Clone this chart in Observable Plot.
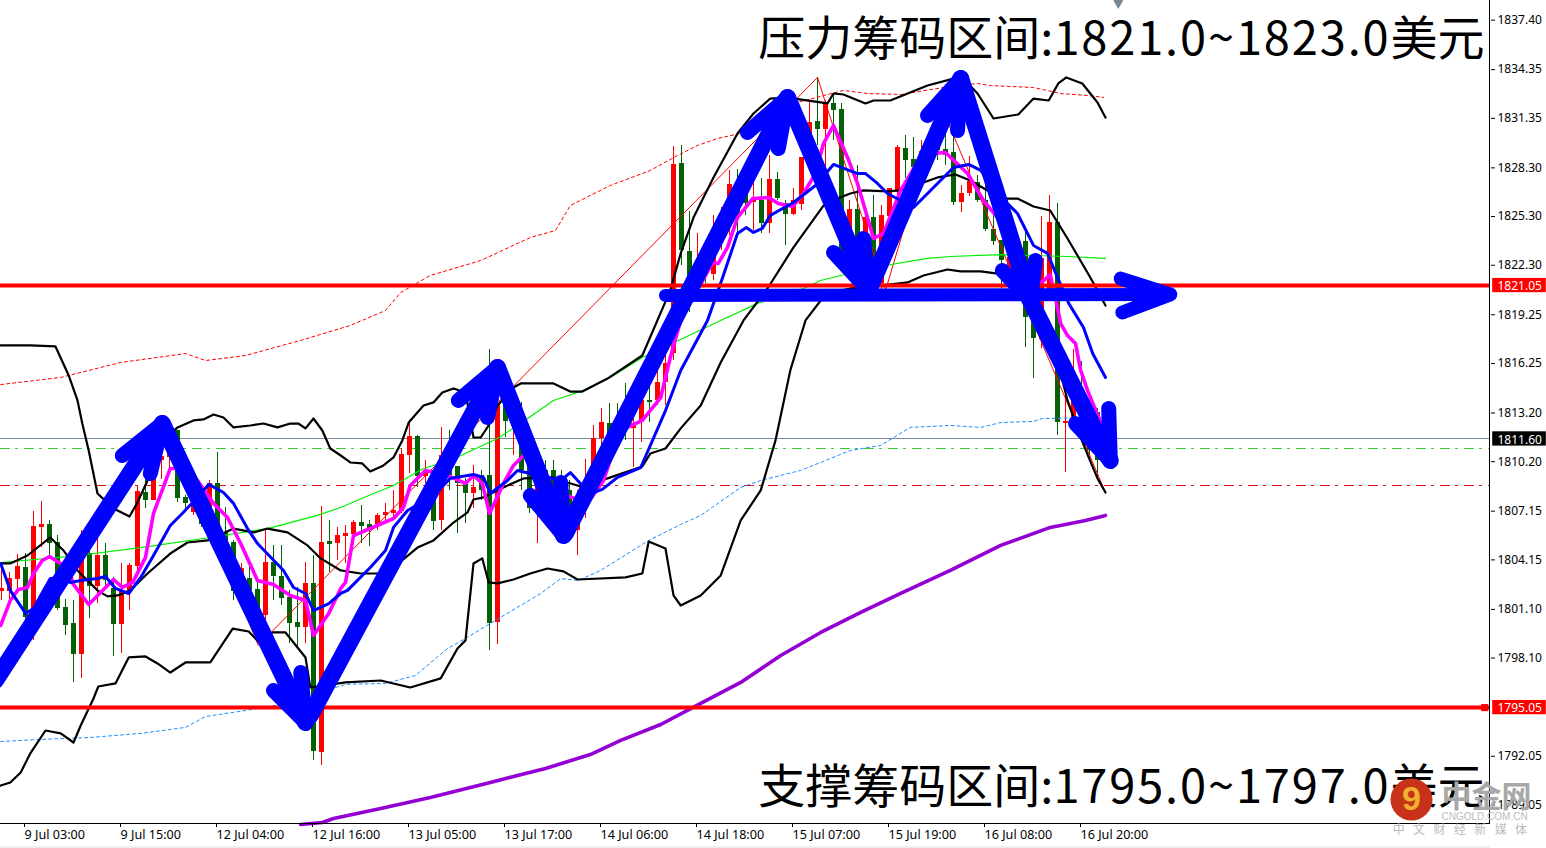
<!DOCTYPE html>
<html><head><meta charset="utf-8">
<style>html,body{margin:0;padding:0;background:#fff}svg{display:block}.spaced text{letter-spacing:8.4px}</style>
<script src="https://cdn.jsdelivr.net/npm/d3@7"></script>
<script src="https://cdn.jsdelivr.net/npm/@observablehq/plot@0.6"></script>
</head><body><div id="chart"></div>
<script>
// candles, one entry per bar, bar index = array position
const opens=[1802.20,1802.20,1802.94,1803.68,1800.85,1806.15,1806.33,1805.22,1801.22,1800.23,1798.32,1804.54,1802.51,1804.42,1802.39,1800.17,1802.27,1803.74,1808.30,1807.81,1810.27,1810.46,1812.12,1808.00,1807.07,1807.19,1807.19,1808.86,1805.84,1805.22,1802.76,1803.00,1802.33,1800.73,1804.01,1803.13,1801.83,1800.29,1799.99,1802.70,1792.29,1805.28,1805.16,1805.59,1805.72,1806.45,1806.33,1806.33,1806.89,1807.01,1807.13,1810.58,1811.75,1809.29,1808.00,1806.58,1810.58,1809.90,1808.92,1808.24,1809.35,1809.35,1800.29,1813.79,1812.74,1813.29,1810.09,1807.50,1809.66,1809.66,1809.04,1808.43,1805.96,1807.32,1808.43,1811.63,1812.55,1812.74,1812.55,1812.25,1812.74,1813.97,1813.97,1815.08,1816.86,1828.57,1823.15,1821.05,1822.59,1821.73,1823.70,1825.24,1827.21,1827.34,1826.17,1826.29,1824.87,1827.58,1826.10,1825.43,1826.04,1828.88,1831.16,1830.66,1832.27,1831.90,1823.52,1825.74,1823.52,1825.24,1821.18,1825.30,1826.91,1829.49,1828.82,1828.57,1828.57,1830.42,1829.43,1829.25,1826.17,1826.72,1827.40,1826.29,1824.50,1823.83,1821.98,1821.98,1823.76,1821.05,1817.73,1820.75,1824.93,1812.55,1812.74,1813.97,1813.05,1813.23,1810.15];
const highs=[1803.68,1803.37,1804.48,1804.54,1807.13,1807.75,1806.58,1805.65,1801.71,1801.65,1805.96,1804.91,1805.53,1805.16,1803.07,1803.93,1803.93,1808.73,1810.15,1810.46,1811.51,1811.51,1812.12,1808.12,1808.43,1808.43,1809.04,1810.77,1807.38,1805.35,1803.93,1803.81,1803.00,1805.96,1805.04,1805.04,1802.27,1802.45,1804.01,1804.42,1807.44,1806.58,1806.15,1806.27,1806.58,1807.50,1806.58,1807.01,1807.62,1808.43,1811.01,1812.55,1811.81,1810.27,1809.47,1812.31,1812.12,1809.90,1809.17,1809.97,1809.66,1817.11,1814.28,1814.28,1814.83,1813.85,1810.27,1810.27,1810.27,1810.27,1809.66,1809.04,1808.43,1810.34,1812.43,1813.48,1813.79,1813.79,1815.02,1813.54,1814.59,1814.89,1816.25,1817.36,1829.62,1829.68,1825.61,1824.26,1823.83,1825.37,1825.86,1828.14,1828.20,1827.65,1827.65,1827.65,1829.06,1828.01,1826.29,1827.03,1828.94,1832.45,1833.87,1832.45,1832.88,1832.27,1826.29,1828.45,1825.37,1826.60,1825.98,1827.03,1829.68,1830.29,1830.17,1829.99,1830.60,1830.60,1830.60,1830.60,1827.21,1829.00,1827.83,1827.21,1825.98,1823.83,1824.44,1823.83,1824.44,1822.72,1825.30,1826.60,1826.10,1814.71,1817.11,1816.37,1813.35,1813.48,1811.51];
const lows=[1801.65,1801.65,1802.27,1800.42,1799.19,1804.91,1804.30,1801.03,1799.49,1796.60,1796.85,1800.54,1801.47,1802.45,1798.20,1798.39,1801.03,1803.50,1807.32,1807.81,1809.10,1809.66,1807.69,1807.19,1806.89,1806.15,1807.07,1804.24,1805.04,1801.65,1802.27,1801.65,1799.19,1799.19,1801.65,1801.34,1799.00,1798.76,1799.00,1791.79,1791.49,1803.37,1804.11,1803.93,1805.35,1805.16,1804.98,1805.96,1806.45,1806.76,1807.01,1809.47,1808.61,1808.86,1805.96,1805.96,1808.43,1805.78,1806.39,1807.32,1807.81,1798.57,1798.94,1811.69,1810.58,1808.43,1807.01,1805.16,1807.19,1805.96,1805.35,1805.53,1804.42,1806.70,1808.12,1810.89,1810.27,1811.20,1811.51,1809.84,1811.38,1812.61,1813.66,1813.66,1816.43,1822.29,1819.39,1820.75,1821.18,1821.36,1823.21,1824.13,1824.13,1825.37,1824.44,1824.26,1824.26,1826.29,1823.52,1825.37,1825.67,1828.45,1829.68,1828.14,1829.99,1822.59,1822.59,1821.98,1822.59,1821.98,1820.75,1824.44,1826.29,1827.65,1826.60,1828.14,1828.14,1828.75,1828.45,1825.98,1825.55,1826.54,1826.17,1824.38,1823.52,1820.87,1821.36,1821.36,1817.23,1815.33,1817.17,1820.13,1811.81,1809.53,1812.43,1812.43,1810.27,1809.23,1810.09];
const closes=[1802.39,1803.00,1803.74,1800.60,1806.21,1806.33,1805.16,1801.16,1800.11,1798.32,1804.30,1802.51,1804.42,1802.88,1800.17,1802.27,1803.81,1808.36,1807.81,1809.78,1810.52,1810.89,1807.93,1807.63,1807.81,1806.33,1808.86,1805.84,1805.16,1802.20,1803.62,1802.27,1800.85,1804.01,1803.13,1801.77,1800.23,1799.99,1802.70,1792.35,1805.22,1805.10,1805.65,1805.78,1806.45,1806.21,1806.08,1806.89,1807.07,1807.19,1810.64,1811.75,1809.29,1809.66,1806.52,1810.58,1809.35,1808.86,1808.24,1808.61,1808.43,1800.23,1813.79,1812.68,1813.66,1809.66,1807.32,1809.66,1808.12,1806.58,1806.27,1805.96,1807.69,1808.43,1811.63,1812.61,1810.89,1811.81,1812.25,1812.55,1813.97,1813.85,1815.08,1816.25,1828.51,1823.21,1821.36,1822.10,1821.79,1823.83,1824.26,1827.28,1825.37,1826.10,1826.29,1824.87,1827.58,1826.41,1825.43,1826.29,1828.94,1831.09,1830.66,1832.27,1831.83,1822.90,1825.74,1823.64,1825.24,1822.16,1825.37,1827.03,1829.56,1828.75,1828.32,1829.31,1830.11,1829.37,1829.06,1826.17,1826.72,1827.46,1826.29,1824.50,1823.76,1822.59,1822.78,1823.76,1819.08,1817.79,1822.72,1824.93,1812.61,1812.68,1814.59,1812.74,1810.89,1810.27,1811.20];

// indicator lines as [bar, price]
const outerUpper=[[-0.12,1817.36],[3.6,1817.36],[6.75,1817.30],[8.4,1815.51],[9.5,1813.97],[10.1,1812.55],[10.9,1810.89],[12,1808.24],[14,1807.32],[16,1806.82],[17,1807.69],[18.25,1809.04],[19.5,1810.46],[20.25,1811.51],[22,1812.31],[24,1812.74],[25.25,1812.80],[26.5,1813.11],[27.75,1812.92],[29,1812.31],[31.1,1812.43],[32.75,1812.55],[34.5,1812.31],[36.1,1812.55],[37.1,1812.55],[38,1812.25],[39,1812.86],[40.1,1812.12],[41.1,1811.01],[42.4,1810.58],[43.6,1810.15],[45.1,1810.09],[46.1,1809.60],[47.75,1809.97],[49,1810.46],[50.1,1811.51],[50.9,1812.61],[52.75,1813.66],[54,1813.85],[55.1,1814.46],[56.5,1814.71],[58,1814.46],[59,1811.69],[59.9,1811.69],[60.9,1812.43],[62,1813.66],[64,1814.77],[64.9,1815.02],[69,1815.02],[71.1,1814.52],[72.6,1814.52],[75.75,1815.32],[80.1,1816.74],[83.6,1820.75],[84.9,1823.03],[86.5,1825.24],[89,1827.71],[92,1830.42],[94,1831.65],[96.1,1832.57],[98.25,1832.63],[103.25,1832.27],[104,1832.88],[105.25,1832.82],[108,1832.27],[109,1832.45],[111.1,1832.45],[115.75,1833.37],[119,1833.80],[120,1833.93],[122,1832.88],[124,1831.34],[127.1,1831.59],[129,1832.57],[130.9,1832.45],[132.1,1833.50],[133.1,1833.87],[135.1,1833.50],[137,1832.33],[138,1831.40]];
const midBand=[[-0.1,1803.93],[1.1,1803.93],[3.25,1804.42],[6.1,1805.53],[7.75,1804.73],[9.5,1803.50],[12,1802.27],[13.25,1801.90],[14.5,1801.96],[16.1,1802.27],[18.25,1803.31],[21.1,1804.54],[23.25,1805.22],[25.75,1805.35],[29,1806.08],[31.5,1805.84],[33.25,1806.08],[35.75,1805.84],[38.25,1805.04],[39.9,1804.24],[42.4,1803.50],[44.9,1803.31],[47,1803.31],[49,1803.68],[52,1804.91],[54,1805.35],[56.5,1806.45],[58.25,1807.07],[59,1807.87],[60.25,1808.00],[63.25,1808.73],[65.25,1809.17],[69,1809.23],[70.75,1808.92],[72.4,1808.67],[75.75,1809.17],[80.1,1809.90],[81.1,1810.70],[83,1811.01],[84.9,1812.25],[87.4,1813.66],[89.9,1816.31],[92.75,1818.90],[95.75,1820.87],[99,1823.40],[102.75,1825.98],[104.5,1826.41],[106.1,1826.72],[107.75,1826.91],[110.75,1826.85],[112.4,1826.91],[114.9,1827.34],[117,1827.71],[119.25,1827.89],[121.1,1827.52],[123.25,1826.91],[125.25,1826.41],[127,1826.41],[129,1825.92],[131.1,1825.67],[133.25,1823.95],[134.5,1822.90],[136.1,1821.55],[137,1820.75],[138,1819.82]];
const outerLower=[[-0.1,1790.25],[1.1,1790.44],[2.4,1791.05],[3.6,1792.23],[5.5,1793.64],[7.4,1793.46],[9,1792.90],[9.9,1793.95],[11.5,1795.61],[12.1,1796.35],[14.25,1796.54],[15.9,1798.14],[18,1798.20],[19.5,1797.77],[21.1,1797.21],[23,1797.83],[26.1,1797.83],[28.9,1799.92],[30.9,1799.74],[32.1,1799.12],[33.9,1799.68],[35.5,1799.68],[38,1798.14],[38.6,1796.29],[43,1796.60],[47.4,1796.72],[51.1,1796.29],[54.9,1796.85],[57,1798.69],[58,1799.19],[59,1803.93],[60.1,1804.24],[60.9,1802.76],[62,1802.70],[64,1802.94],[66.1,1803.31],[68.25,1803.62],[70.25,1803.44],[72,1802.94],[78,1803.07],[80.1,1803.31],[80.9,1805.28],[83,1804.85],[84,1801.96],[84.9,1801.34],[87.4,1801.96],[89.9,1803.19],[92.4,1806.58],[94.9,1808.43],[96.75,1811.51],[98.6,1815.82],[100.5,1818.90],[102.4,1820.13],[103.6,1820.62],[106.1,1820.87],[109.9,1821.05],[113.25,1821.24],[115.25,1821.67],[118.25,1822.04],[119.9,1821.92],[122.4,1821.92],[124.5,1821.79],[126.75,1821.05],[129.25,1819.21],[131.1,1817.36],[132,1816.43],[133.25,1813.97],[134.9,1811.69],[135.9,1810.46],[137,1809.17],[138,1808.30]];
const blueMA=[[-0.1,1803.93],[1.1,1802.27],[3,1800.85],[4,1801.16],[5.25,1802.27],[6.1,1803.00],[7.4,1803.07],[8.6,1802.76],[9.9,1802.88],[12,1803.00],[13,1803.13],[14.25,1802.39],[15.9,1802.08],[17.4,1803.07],[19,1804.42],[21.1,1806.27],[22.6,1807.01],[23.9,1807.69],[25.9,1808.80],[27.75,1808.30],[29,1807.63],[30.75,1806.08],[32,1805.16],[35.25,1803.50],[36.5,1802.45],[38,1802.08],[39,1801.03],[40.9,1801.46],[42.4,1802.08],[43.25,1802.27],[46.1,1803.68],[48,1804.73],[49,1806.15],[50.75,1807.19],[54,1808.12],[56.1,1809.17],[59,1809.41],[60.25,1809.23],[61.1,1808.24],[63.25,1809.04],[64.5,1809.66],[66.1,1809.47],[68.4,1809.23],[69.9,1809.04],[71.1,1809.53],[72.6,1808.73],[74,1808.30],[75.1,1808.49],[77,1809.23],[79.9,1809.84],[83,1813.35],[84.9,1815.82],[88.25,1818.90],[90.1,1821.48],[92,1824.26],[93.1,1824.63],[94,1824.32],[95.1,1824.57],[96.1,1825.37],[99,1826.17],[101.75,1827.21],[104,1828.51],[107,1827.95],[108,1827.95],[109.5,1827.34],[110.75,1826.72],[114,1825.86],[119,1828.32],[120.9,1828.51],[122.4,1828.14],[123.6,1827.34],[125.75,1826.10],[127,1825.49],[129,1823.52],[130.75,1823.03],[132,1821.55],[133.4,1819.95],[135.25,1818.47],[136.4,1816.86],[138,1815.39]];
const magentaMA=[[-0.1,1800.11],[1.1,1801.65],[2.1,1802.33],[3.25,1802.45],[4,1803.31],[5.1,1804.11],[6,1804.36],[7.4,1803.93],[8.4,1803.81],[8.9,1802.70],[10.9,1801.40],[14,1802.94],[15.1,1802.45],[16.4,1802.76],[18,1804.30],[19,1807.01],[21.1,1809.78],[22,1809.78],[24.5,1809.04],[26.5,1807.63],[28.25,1806.76],[29.9,1805.16],[32,1802.88],[34,1802.64],[36.1,1801.96],[38,1801.65],[39,1799.49],[40.9,1800.85],[42.4,1802.39],[43,1802.76],[44,1805.65],[49,1806.70],[50.25,1807.38],[51.1,1808.73],[53,1809.66],[55.75,1809.35],[58,1808.86],[59,1809.35],[60.1,1808.86],[61,1807.01],[62.75,1808.86],[64,1809.97],[65.5,1810.70],[69,1808.43],[73.25,1807.63],[75.25,1809.04],[77,1811.63],[78.25,1812.31],[80.1,1812.74],[82.4,1814.15],[83.6,1816.62],[84.9,1818.90],[88.9,1822.47],[89.6,1822.41],[90.75,1823.40],[92,1825.24],[93.9,1826.41],[95.9,1826.47],[97.1,1826.10],[98.9,1825.92],[100.25,1826.72],[101.75,1827.95],[102.75,1829.80],[104,1830.91],[105.75,1828.94],[107,1827.34],[108.25,1825.24],[109,1823.95],[110.25,1824.26],[112.4,1826.91],[114.25,1828.45],[116.5,1829.19],[118,1829.25],[120.75,1827.95],[122.75,1826.29],[124.5,1825.24],[128.25,1822.16],[129.9,1821.18],[131.1,1821.73],[131.5,1820.75],[131.75,1820.31],[132.4,1818.71],[133.25,1817.97],[134.25,1817.48],[134.9,1815.82],[135.75,1814.59],[137.4,1812.61]];
const limeMA=[[-0.1,1803.99],[8.6,1804.36],[17.4,1804.91],[26.1,1805.53],[33.25,1806.08],[39.5,1806.89],[42.4,1807.38],[46.5,1808.24],[49,1808.73],[52.75,1809.78],[56.1,1810.27],[62,1811.63],[64.5,1812.43],[69,1813.97],[72.75,1814.59],[76.1,1815.39],[80.1,1816.62],[89.9,1818.90],[94.5,1819.95],[100.25,1820.87],[102.4,1821.36],[109,1822.16],[115.75,1822.72],[118.6,1822.84],[124.9,1822.96],[133.25,1822.84],[138,1822.72]];
const dottedBlue=[[-0.1,1792.96],[4.9,1793.09],[11.1,1793.21],[17.4,1793.46],[23,1793.83],[25.5,1794.50],[30.5,1794.87],[34.9,1795.24],[38.6,1795.80],[43,1796.48],[48,1796.54],[51.75,1797.03],[55.75,1798.69],[58,1799.31],[61.1,1800.23],[67.4,1802.08],[69.9,1803.00],[72.1,1802.88],[74.9,1803.50],[80.9,1805.35],[84.9,1806.33],[87.4,1806.89],[92.4,1808.61],[94.9,1809.04],[99.9,1809.66],[106.1,1810.89],[109.9,1811.20],[113.6,1812.31],[118.6,1812.43],[122.4,1812.31],[124.9,1812.61],[129,1812.68],[130.1,1812.86],[138,1812.92]];
const dottedRed=[[-0.1,1814.95],[7.4,1815.39],[14.9,1816.31],[23,1816.86],[25.5,1816.43],[30.5,1816.74],[37.4,1817.67],[43.6,1818.59],[48,1819.51],[49.9,1820.62],[53.6,1821.67],[59.9,1822.59],[66.1,1824.01],[69.25,1824.44],[71.1,1825.98],[73.6,1826.60],[76.1,1827.21],[81.1,1828.14],[84.5,1829.06],[87,1829.68],[89.5,1830.11],[92.4,1830.42],[94.9,1830.91],[97.4,1831.83],[99,1832.27],[105.25,1833.07],[108.25,1832.88],[112.4,1832.82],[117.75,1833.25],[122,1833.50],[123.6,1833.37],[129,1833.25],[132.4,1832.88],[135.75,1832.76],[137.75,1832.64]];
const zigzag=[[21.75,1811.51],[32.1,1798.88],[102,1833.87],[110.5,1820.75],[117.4,1832.14],[138,1808.30]];
const purpleMA=[[37.4,1787.85],[40.1,1787.97],[41.5,1788.22],[47.4,1788.84],[53.6,1789.51],[61.1,1790.44],[68,1791.30],[73.6,1792.16],[77.4,1793.03],[82.4,1794.01],[87.4,1795.31],[92.4,1796.60],[97.4,1798.26],[102.4,1799.68],[107.4,1800.91],[112.4,1802.08],[118.6,1803.50],[124.9,1805.04],[131.1,1806.15],[135.5,1806.58],[138,1806.89]];

// hand-drawn arrows: [tail, tip, barbA, barbB], each [bar, price]
const arrows=[
 [[-0.75,1796.72],[20.1,1812.55],[15.1,1810.58],[18.6,1809.47]],
 [[20.1,1812.55],[38,1794.13],[34,1796.10],[37.4,1797.21]],
 [[38.6,1794.57],[62,1816.00],[57.1,1813.97],[60.75,1812.92]],
 [[62,1816.00],[70.25,1805.65],[66.1,1808.12],[69.9,1808.92]],
 [[70.5,1805.78],[98.25,1832.63],[93.25,1830.48],[97.1,1829.49]],
 [[98.25,1832.63],[108.4,1820.75],[104,1823.09],[107.75,1823.95]],
 [[108.4,1820.75],[119.9,1833.80],[115.75,1831.53],[119.5,1830.60]],
 [[119.9,1833.80],[128.6,1820.13],[125.1,1821.98],[129.25,1822.59]],
 [[128.6,1820.13],[138.6,1810.27],[134.25,1812.55],[138.4,1813.48]]
];
const flatArrow=[[83,1820.44],[146.1,1820.50],[139.9,1821.48],[140.1,1819.39]];

const yTicks=[1837.40,1834.35,1831.35,1828.30,1825.30,1822.30,1819.25,1816.25,1813.20,1810.20,1807.15,1804.15,1801.10,1798.10,1792.05,1789.05];
const xTickBars=[3,15,27,39,51,63,75,87,99,111,123,135];
const xTickLabels=["9 Jul 03:00","9 Jul 15:00","12 Jul 04:00","12 Jul 16:00","13 Jul 05:00","13 Jul 17:00","14 Jul 06:00","14 Jul 18:00","15 Jul 07:00","15 Jul 19:00","16 Jul 08:00","16 Jul 20:00"];
const resistance=1821.05, support=1795.05, lastPrice=1811.60, greenLevel=1811.0, redLevel=1808.75;
const priceTags=[{p:resistance,fill:"#ff0000"},{p:support,fill:"#ff0000"},{p:lastPrice,fill:"#000000"}];
const titles=[{b:94.6,p:1836.21,t:"压力筹码区间:1821.0~1823.0美元"},{b:94.6,p:1790.13,t:"支撑筹码区间:1795.0~1797.0美元"}];

const candles=opens.map((o,i)=>({i,o,h:highs[i],l:lows[i],c:closes[i],col:closes[i]>=o?"#ff0000":"#056005"}));
const line=(arr,opts)=>Plot.line(arr,{x:d=>d[0],y:d=>d[1],strokeLinejoin:"round",...opts});
const bandFont="'Noto Sans',sans-serif";
const dashDot="10,5,3,6";

const chart=Plot.plot({
 width:1546,height:848,marginLeft:0,marginRight:56,marginTop:0,marginBottom:25,
 style:{fontFamily:bandFont,fontSize:"12px",background:"#fff",color:"#000"},
 x:{domain:[0,186],range:[1,1489]},
 y:{domain:[1787.91,1838.61],range:[823,0]},
 marks:[
  Plot.ruleY([1786.45],{stroke:"#eeeeee",strokeWidth:2}),
  Plot.ruleY([lastPrice],{stroke:"#778899",strokeWidth:1,shapeRendering:"crispEdges"}),
  Plot.ruleY([greenLevel],{stroke:"#32cd32",strokeWidth:1,strokeDasharray:dashDot,shapeRendering:"crispEdges"}),
  Plot.ruleY([redLevel],{stroke:"#e01010",strokeWidth:1,strokeDasharray:dashDot,shapeRendering:"crispEdges"}),
  Plot.ruleX(candles,{x:"i",y1:"l",y2:"h",stroke:"col",strokeWidth:1,shapeRendering:"crispEdges"}),
  Plot.rect(candles,{x1:d=>d.i-0.3125,x2:d=>d.i+0.3125,y1:"o",y2:"c",fill:"col",shapeRendering:"crispEdges"}),
  line(dottedRed,{stroke:"#ff0000",strokeWidth:1,strokeDasharray:"3,3"}),
  line(dottedBlue,{stroke:"#1e90ff",strokeWidth:1,strokeDasharray:"3,3"}),
  line(zigzag,{stroke:"#ff0000",strokeWidth:1}),
  line(limeMA,{stroke:"#00ee00",strokeWidth:1.2}),
  line(outerUpper,{stroke:"#000",strokeWidth:2.2}),
  line(midBand,{stroke:"#000",strokeWidth:2.2}),
  line(outerLower,{stroke:"#000",strokeWidth:2.2}),
  line(magentaMA,{stroke:"#ff00ff",strokeWidth:3.6}),
  line(blueMA,{stroke:"#0000ff",strokeWidth:3}),
  line(purpleMA,{stroke:"#9400d3",strokeWidth:3.6}),
  Plot.ruleY([resistance,support],{stroke:"#ff0000",strokeWidth:4}),
  Plot.dot([support],{x:()=>185.4,y:d=>d,symbol:"square",r:4,fill:"#ff0000"}),
  Plot.dot([1838.6],{x:()=>139.6,y:d=>d,symbol:"diamond",r:5,fill:"#778899"}),
  ...arrows.map(a=>line([a[0],a[1]],{stroke:"#0000ff",strokeWidth:17,strokeLinecap:"round"})),
  ...arrows.map(a=>line([a[2],a[1],a[3]],{stroke:"#0000ff",strokeWidth:15,strokeLinecap:"round"})),
  line([flatArrow[0],flatArrow[1]],{stroke:"#0000ff",strokeWidth:13,strokeLinecap:"round"}),
  line([flatArrow[2],flatArrow[1],flatArrow[3]],{stroke:"#0000ff",strokeWidth:14,strokeLinecap:"round"}),
  Plot.ruleX([186],{stroke:"#000",strokeWidth:1}),
  Plot.ruleY([1787.91],{stroke:"#000",strokeWidth:1}),
  Plot.axisY({anchor:"right",ticks:yTicks,tickFormat:d=>d.toFixed(2),tickSize:4,tickPadding:3,label:null,fontSize:12}),
  Plot.axisX({anchor:"bottom",ticks:xTickBars,tickFormat:d=>xTickLabels[xTickBars.indexOf(d)],tickSize:4,tickPadding:3,label:null,textAnchor:"start",dx:-1,fontSize:12.6}),
  Plot.rect(priceTags,{x1:()=>186.4,x2:()=>193.1,y1:d=>d.p-0.44,y2:d=>d.p+0.44,fill:"fill"}),
  Plot.text(priceTags,{x:()=>187,y:"p",text:d=>d.p.toFixed(2),fill:"#fff",textAnchor:"start",fontSize:12,dy:1}),
  Plot.text(titles,{x:"b",y:"p",text:"t",textAnchor:"start",fontSize:47,fontFamily:"'Noto Sans CJK SC'",fill:"#000",className:"title-big"}),
  Plot.dot([1789.39],{x:()=>176.25,y:d=>d,r:21,fill:"#c8321a"}),
  Plot.text(["9"],{x:()=>176.25,y:()=>1789.39,text:d=>d,fontSize:34,fontWeight:"bold",fill:"#f2b030",fontFamily:"'Liberation Sans'"}),
  Plot.text(["中金网"],{x:()=>180,y:()=>1789.5,text:d=>d,textAnchor:"start",fontSize:30,fontWeight:"bold",fill:"#a8a8a8",fontFamily:"'Noto Sans CJK SC'"}),
  Plot.text(["CNGOLD.COM.CN"],{x:()=>180,y:()=>1788.35,text:d=>d,textAnchor:"start",fontSize:10,fill:"#bbbbbb",fontFamily:"'Liberation Sans'"}),
  Plot.text(["中文财经新媒体"],{x:()=>173.9,y:()=>1787.5,text:d=>d,textAnchor:"start",fontSize:12,fill:"#bbbbbb",fontFamily:"'Noto Sans CJK SC'",className:"spaced"})
 ]
});
// widen only the digits of each headline, keeping it one text element
d3.select(chart).selectAll(".title-big text").each(function(){
  const m=/^(.*:)(.*?)(美元)$/.exec(this.textContent); if(!m) return;
  const sel=d3.select(this); sel.text(null);
  sel.append("tspan").text(m[1]);
  sel.append("tspan").style("letter-spacing","1.85px").text(m[2]);
  sel.append("tspan").text(m[3]);
});
document.getElementById("chart").appendChild(chart);
</script></body></html>
